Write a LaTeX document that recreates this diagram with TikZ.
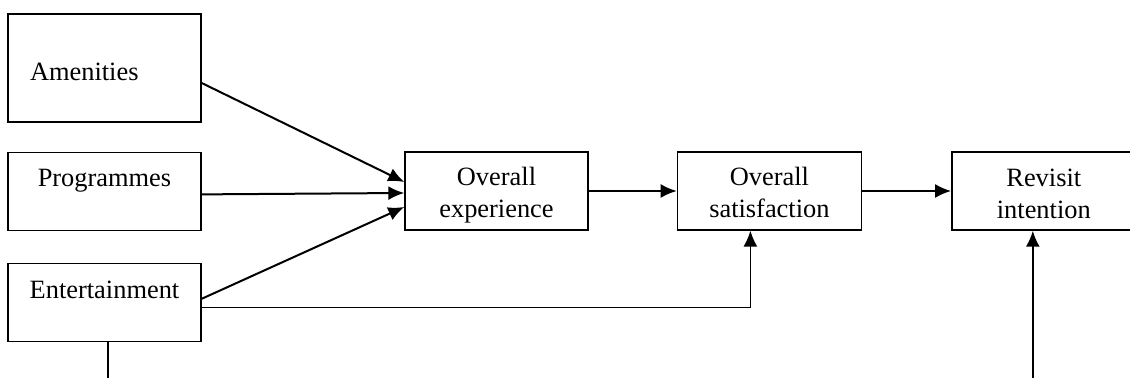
\documentclass[tikz,border=0pt]{standalone}
\usepackage{fontspec}
\setmainfont{Liberation Serif}
\usetikzlibrary{positioning,arrows.meta}

\begin{document}
\begin{tikzpicture}[x=0.5pt, y=-0.5pt, >={Latex[length=8pt,width=7pt]},
    box/.style={rectangle, draw=black, line width=0.7pt, inner sep=0pt, minimum width=96.5pt,
      text width=96.5pt, align=center, font=\fontsize{13.2}{16}\selectfont},
    link/.style={->, line width=1pt}]
          \useasboundingbox (0,0) rectangle (1130,378);

          \node[box, text height=33.25pt, text depth=20.75pt, text width=74.5pt, inner xsep=11pt, align=left] (am) at (104.5,68) {Amenities};
          \node[box, text height=17.25pt, text depth=21.75pt] (pr) [below=14.5pt of am] {Programmes};
          \node[box, text height=17.25pt, text depth=21.75pt] (en) [below=16pt of pr] {Entertainment};
          \node[box, text height=16.75pt, text depth=22.25pt, minimum width=91.5pt, text width=91.5pt] (oe) at (496.5,191) {Overall\\experience};
          \node[box, text height=16.75pt, text depth=22.25pt, minimum width=92pt, text width=92pt] (os) [right=44pt of oe] {Overall\\satisfaction};
          \node[box, text height=17.25pt, text depth=21.75pt, minimum width=92pt, text width=92pt] (ri) [right=44.5pt of os] {Revisit\\intention};

          \coordinate (enlow) at ([xshift=1.75pt]en.south |- 0,380);
          \coordinate (rilow) at ([xshift=-5.5pt]ri.south |- 0,380);

          \draw[link] ([yshift=-7.5pt]am.east) -- ([yshift=4.5pt]oe.west);
          \draw[link] ([yshift=-1.5pt]pr.east) -- ([yshift=-1pt]oe.west);
          \draw[link] ([yshift=2pt]en.east) -- ([yshift=-8pt]oe.west);
          \draw[link] (oe) -- (os);
          \draw[link] (os) -- (ri);
          \draw[->, line width=0.7pt] ([yshift=-2.5pt]en.east) -| ([xshift=-9.5pt]os.south);
          \draw[line width=0.7pt] ([xshift=1.75pt]en.south) -- (enlow);
          \draw[link] (rilow) -- ([xshift=-5.5pt]ri.south);
        \end{tikzpicture}
\end{document}
